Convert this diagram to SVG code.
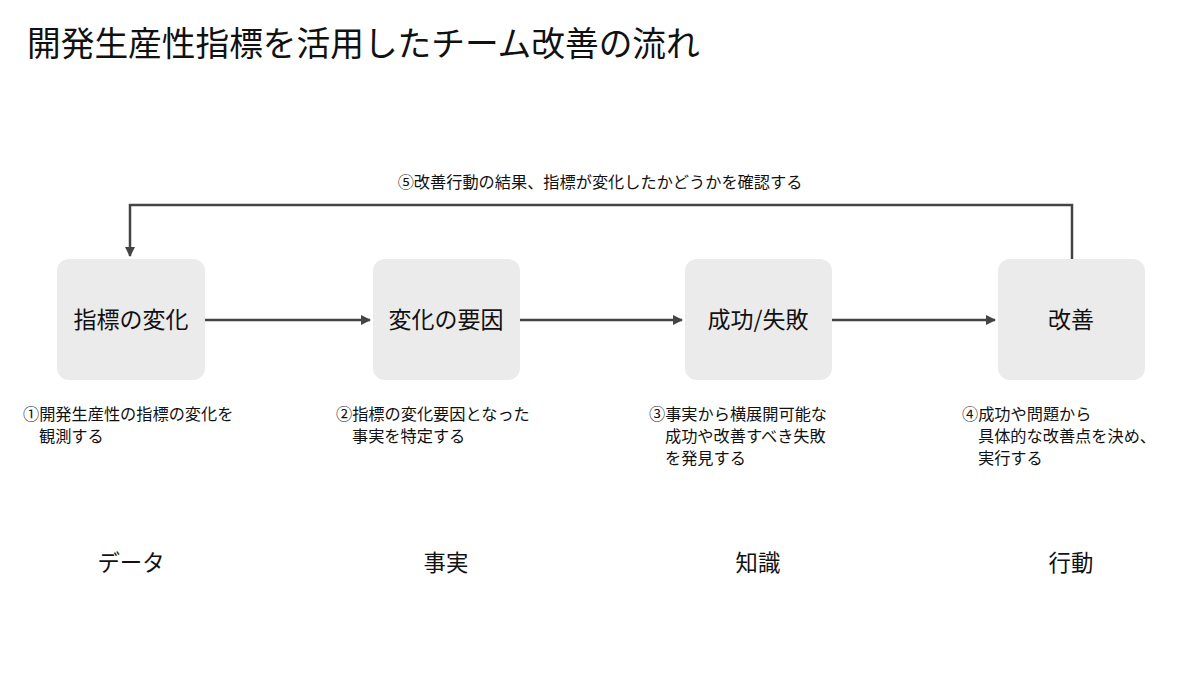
<svg xmlns="http://www.w3.org/2000/svg" width="1200" height="675" viewBox="0 0 1200 675">
<style>
text{font-family:"Noto Sans CJK JP","Noto Sans",sans-serif;fill:#111}
.box{fill:#ebebeb}
.bl{font-size:23px;text-anchor:middle}
.note{font-size:16.2px}
.cat{font-size:22.4px;text-anchor:middle}
.ln{stroke:#444;stroke-width:2.5;fill:none}
</style>
<defs><marker id="ah" markerWidth="10" markerHeight="10" refX="9" refY="5" orient="auto" markerUnits="userSpaceOnUse"><path d="M0,0 L10,5 L0,10 z" fill="#444"/></marker></defs>
<rect width="1200" height="675" fill="#fff"/>
<text x="27" y="56" font-size="33.7">開発生産性指標を活用したチーム改善の流れ</text>
<g id="connectors">
<line class="ln" x1="205" y1="320" x2="370" y2="320" marker-end="url(#ah)"/>
<line class="ln" x1="520" y1="320" x2="682" y2="320" marker-end="url(#ah)"/>
<line class="ln" x1="832" y1="320" x2="995" y2="320" marker-end="url(#ah)"/>
<polyline class="ln" points="1072,259 1072,205 130,205 130,256" marker-end="url(#ah)"/>
<text class="note" x="600" y="188" text-anchor="middle" font-size="16.6">⑤改善行動の結果、指標が変化したかどうかを確認する</text>
</g>
<g id="n1"><rect class="box" x="57" y="259" width="148" height="121" rx="12"/><text class="bl" x="131" y="328">指標の変化</text></g>
<g id="n2"><rect class="box" x="373" y="259" width="147" height="121" rx="12"/><text class="bl" x="446" y="328">変化の要因</text></g>
<g id="n3"><rect class="box" x="685" y="259" width="147" height="121" rx="12"/><text class="bl" x="758" y="328">成功/失敗</text></g>
<g id="n4"><rect class="box" x="998" y="259" width="147" height="121" rx="12"/><text class="bl" x="1071" y="328">改善</text></g>
<g id="notes">
<text class="note" x="23" y="420">①開発生産性の指標の変化を</text>
<text class="note" x="39" y="442">観測する</text>
<text class="note" x="336" y="420">②指標の変化要因となった</text>
<text class="note" x="352" y="442">事実を特定する</text>
<text class="note" x="649" y="420">③事実から横展開可能な</text>
<text class="note" x="665" y="442">成功や改善すべき失敗</text>
<text class="note" x="665" y="464">を発見する</text>
<text class="note" x="962" y="420">④成功や問題から</text>
<text class="note" x="978" y="442">具体的な改善点を決め、</text>
<text class="note" x="978" y="464">実行する</text>
</g>
<g id="cats">
<text class="cat" x="131" y="571">データ</text>
<text class="cat" x="446" y="571">事実</text>
<text class="cat" x="758" y="571">知識</text>
<text class="cat" x="1071" y="571">行動</text>
</g>
</svg>
